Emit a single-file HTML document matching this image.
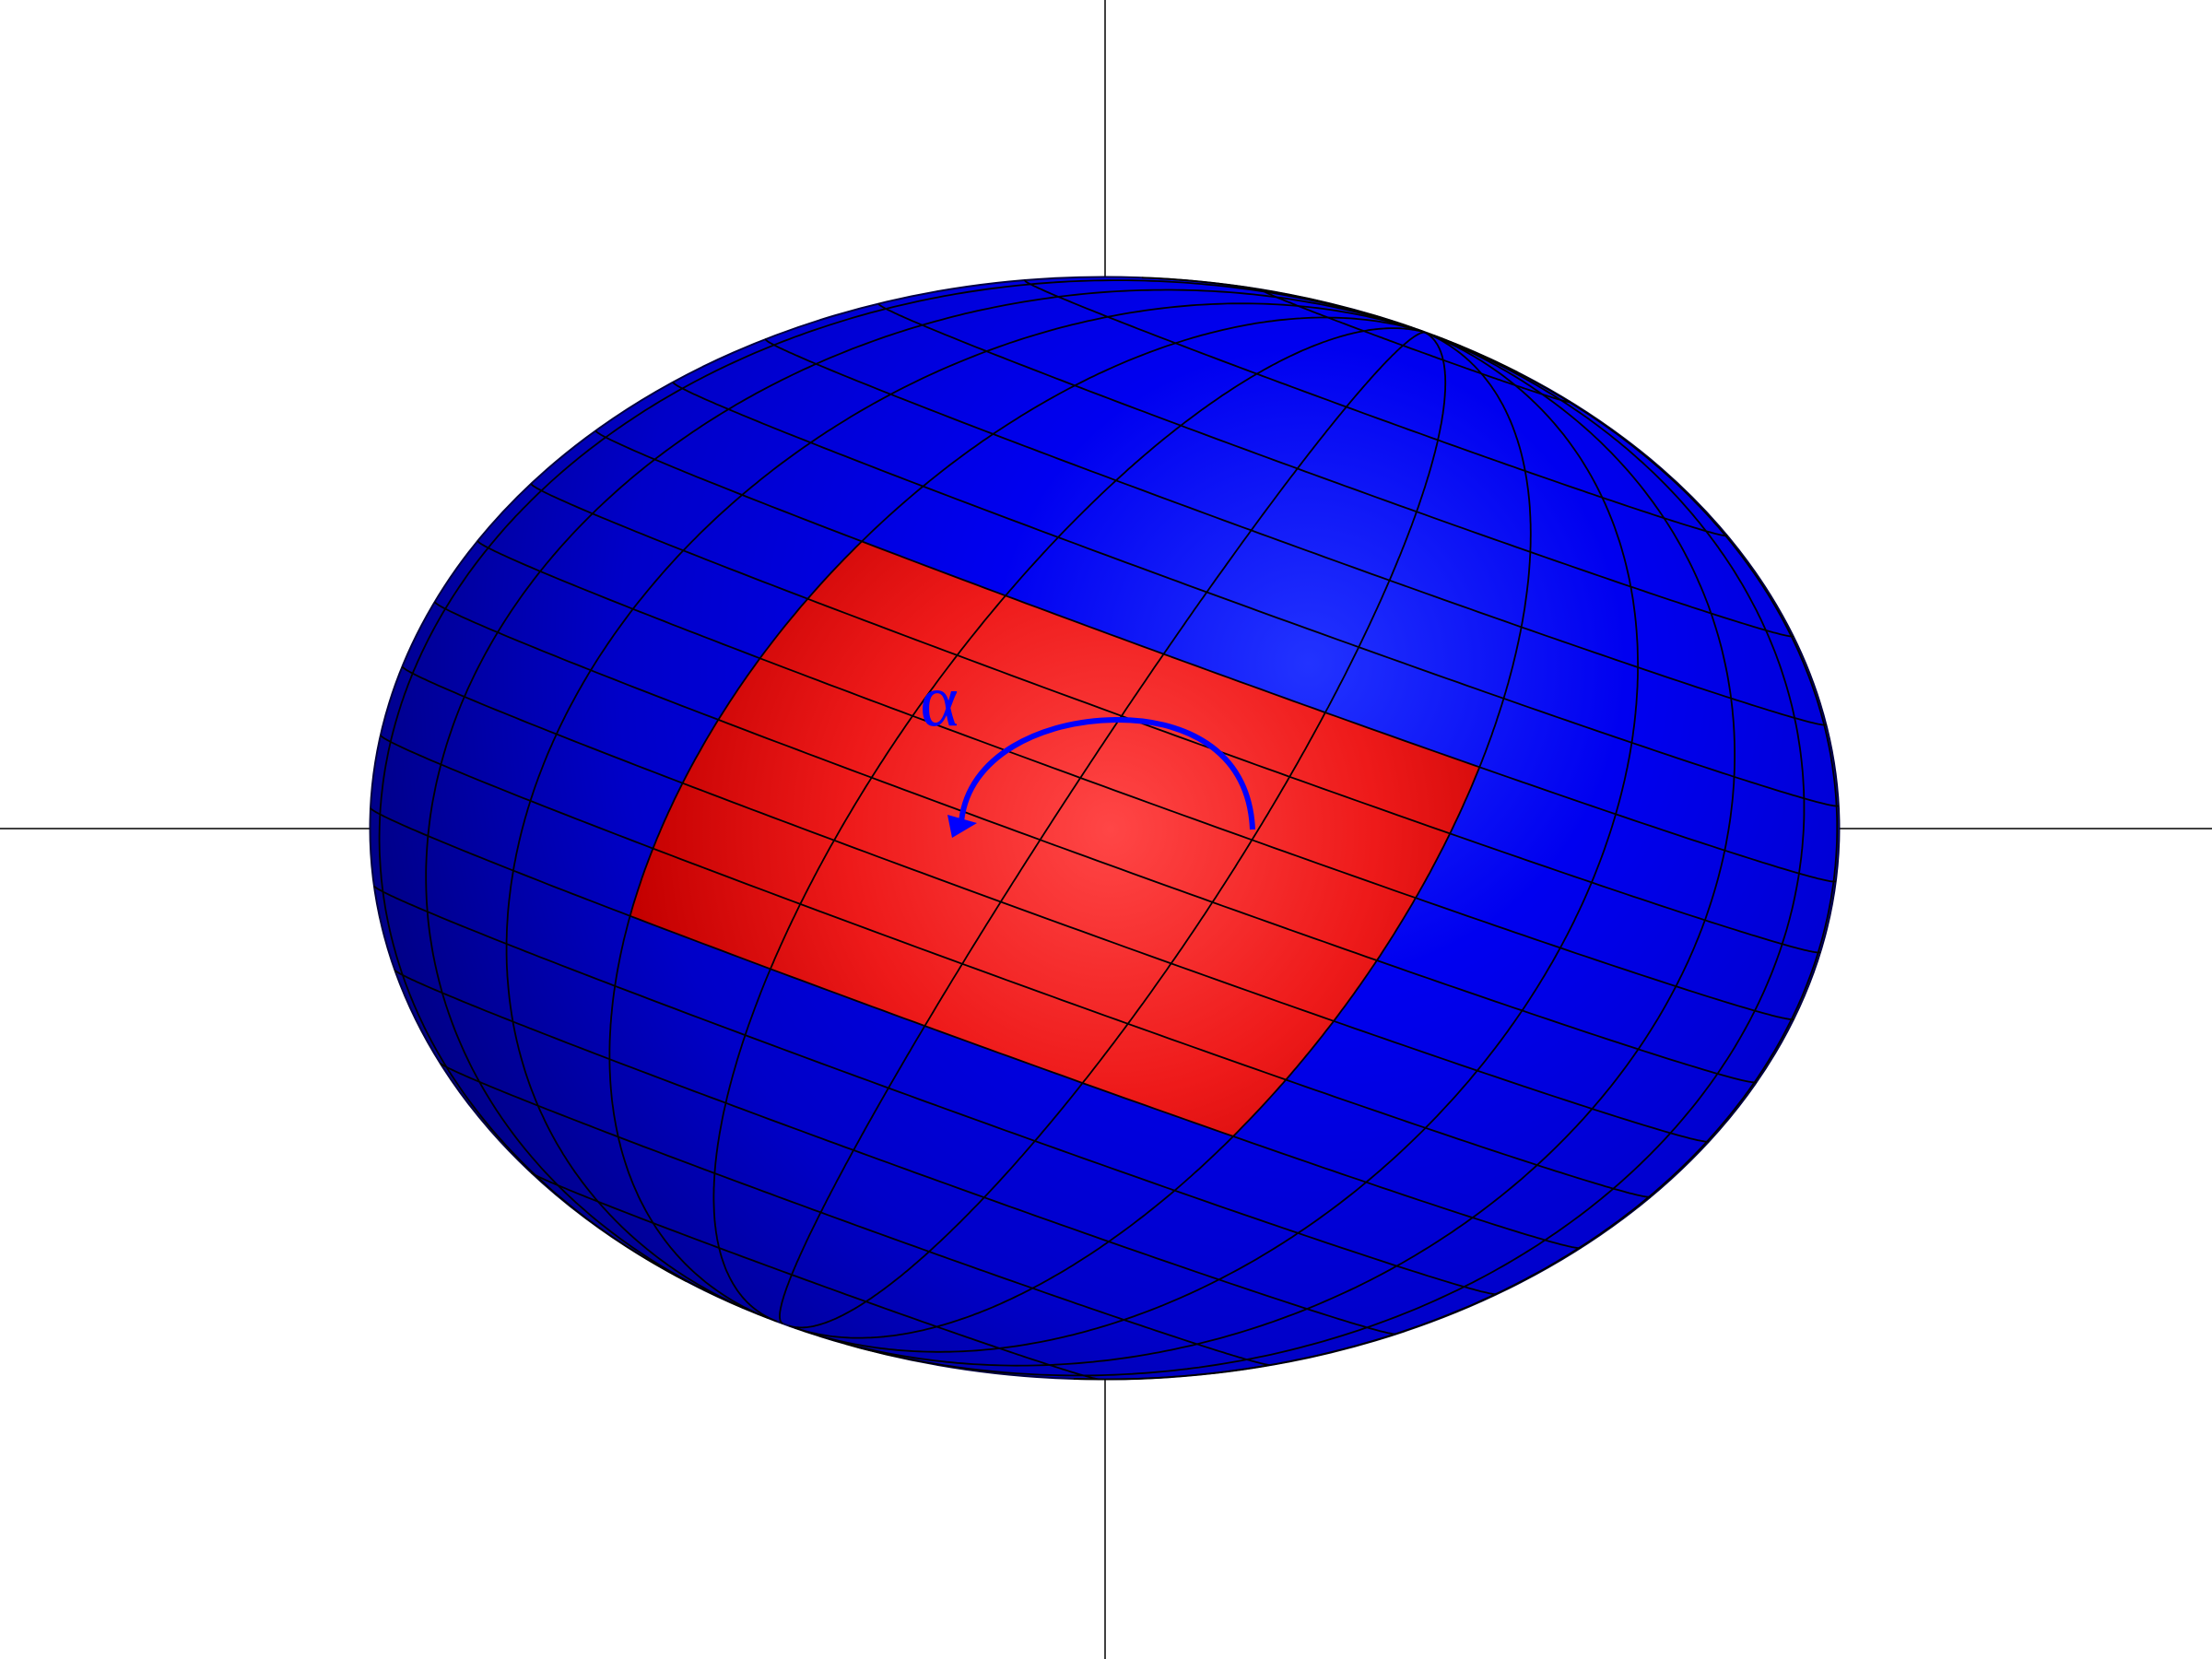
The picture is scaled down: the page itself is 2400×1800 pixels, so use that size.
<!DOCTYPE html>
<html><head><meta charset="utf-8"><style>
html,body{margin:0;padding:0;background:#fff;}
svg{display:block;}
</style></head><body>
<svg id="chart" width="2400" height="1800" viewBox="0 0 2400 1800" xmlns="http://www.w3.org/2000/svg">
<defs>
<radialGradient id="blueGrad" gradientUnits="userSpaceOnUse" cx="1420" cy="720" r="1150">
<stop offset="0" stop-color="#2233ff"/><stop offset="0.3" stop-color="#0000f0"/><stop offset="0.65" stop-color="#0000c8"/><stop offset="1" stop-color="#000070"/>
</radialGradient>
<radialGradient id="redGrad" gradientUnits="userSpaceOnUse" cx="1205" cy="900" r="520">
<stop offset="0" stop-color="#ff4646"/><stop offset="0.55" stop-color="#ee1a1a"/><stop offset="1" stop-color="#c40000"/>
</radialGradient>
</defs>
<line x1="1199" y1="0" x2="1199" y2="1800" stroke="#000" stroke-width="1.5"/>
<line x1="0" y1="899" x2="2400" y2="899" stroke="#000" stroke-width="1.5"/>
<g id="sphere"></g>
<text x="998" y="787" font-family="Liberation Serif, serif" font-size="80" fill="#0000ff">α</text>
<path d="M1359,900 C1355,810 1280,780 1210,781 C1130,782 1050,820 1043,892" fill="none" stroke="#0000ff" stroke-width="6"/>
<polygon points="1028,884 1060,893 1033,909" fill="#0000ff"/>
</svg>
<script>
const latLevels=[-0.9025,-0.7775,-0.6525,-0.5275,-0.4025,-0.2775,-0.1525,-0.0275,0.0975,0.2225,0.3475,0.4725,0.5975,0.7225,0.8475,0.9725];
const lonLines=[-4,11,26,41,56,71,86,101,116,131,146,161,176,191,206,221,236,251,266,281,296,311,326,341];
const patchLevel=[-0.4025,0.3475];
const patchLon=[-34,26];
const CX=1198.5,CY=898.5,RX=797,RY=598;
const NS="http://www.w3.org/2000/svg";
let p=[0.436,0.90,0.03];let n=Math.hypot(...p);p=p.map(v=>v/n);
let e1=[-p[2]*p[0],-p[2]*p[1],1-p[2]*p[2]];n=Math.hypot(...e1);e1=e1.map(v=>v/n);
const e2=[p[1]*e1[2]-p[2]*e1[1],p[2]*e1[0]-p[0]*e1[2],p[0]*e1[1]-p[1]*e1[0]];
function ptH(h,lon){const s=h,c=Math.sqrt(Math.max(0,1-h*h)),b=lon*Math.PI/180;
const v=[0,1,2].map(i=>s*p[i]+c*(Math.cos(b)*e1[i]+Math.sin(b)*e2[i]));return [CX+RX*v[0],CY-RY*v[1],v[2]];}
function pt(lat,lon){return ptH(Math.sin(lat*Math.PI/180),lon);}
const g=document.getElementById('sphere');
const base=document.createElementNS(NS,'ellipse');


base.setAttribute('cx',CX);base.setAttribute('cy',CY);base.setAttribute('rx',RX);base.setAttribute('ry',RY);
base.setAttribute('fill','url(#blueGrad)');base.setAttribute('stroke','#000040');base.setAttribute('stroke-width','2');
g.appendChild(base);
let pts=[];const h0=patchLevel[0],h1=patchLevel[1];
for(let l=patchLon[0];l<=patchLon[1];l+=1)pts.push(ptH(h1,l));
for(let k=0;k<=40;k++)pts.push(ptH(h1+(h0-h1)*k/40,patchLon[1]));
for(let l=patchLon[1];l>=patchLon[0];l-=1)pts.push(ptH(h0,l));
for(let k=0;k<=40;k++)pts.push(ptH(h0+(h1-h0)*k/40,patchLon[0]));
const patch=document.createElementNS(NS,'polygon');


patch.setAttribute('points',pts.map(q=>q[0].toFixed(1)+','+q[1].toFixed(1)).join(' '));
patch.setAttribute('fill','url(#redGrad)');
g.appendChild(patch);
function drawCurve(f,name){let d='',on=false;
for(let t=0;t<=360;t+=1){const q=f(t);if(q[2]>0){d+=(on?'L':'M')+q[0].toFixed(1)+','+q[1].toFixed(1);on=true;}else on=false;}
if(!d)return;const el=document.createElementNS(NS,'path');


el.setAttribute('d',d);el.setAttribute('fill','none');el.setAttribute('stroke','#000');el.setAttribute('stroke-width','1.8');g.appendChild(el);}
latLevels.forEach(h=>drawCurve(t=>ptH(h,t),'latitude-line'));
lonLines.forEach(l=>drawCurve(t=>pt(t/2-90,l),'meridian-line'));
</script>
</body></html>
